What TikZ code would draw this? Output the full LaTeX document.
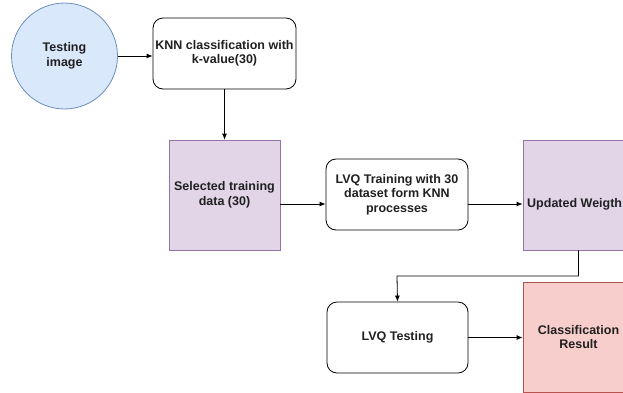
\documentclass[tikz,border=0pt]{standalone}
\usepackage{fontspec}
\setmainfont{Liberation Sans}
\usetikzlibrary{arrows.meta}
\definecolor{blueFill}{HTML}{DAE8FC}
\definecolor{blueLine}{HTML}{6C8EBF}
\definecolor{purpleFill}{HTML}{E1D5E7}
\definecolor{purpleLine}{HTML}{9673A6}
\definecolor{redFill}{HTML}{F8CECC}
\definecolor{redLine}{HTML}{B85450}
\definecolor{textGray}{HTML}{202020}
\tikzset{
  every node/.style={font=\fontsize{12.5}{14.5}\selectfont\bfseries, text=textGray, align=center, inner sep=0pt},
  procbox/.style={draw=black, fill=white, rounded corners=10pt, line width=0.8pt},
  databox/.style={draw=purpleLine, fill=purpleFill, line width=0.8pt},
  resultbox/.style={draw=redLine, fill=redFill, line width=0.8pt},
  startnode/.style={draw=blueLine, fill=blueFill, circle, line width=0.8pt},
  flow/.style={draw=black, line width=0.8pt, -{Latex[length=6pt,width=5pt]}}
}
\begin{document}
\begin{tikzpicture}[x=1pt, y=-1pt]
  \useasboundingbox (0,0) rectangle (623,392);
  \clip (0,0) rectangle (623,392);
  % shapes
  \node[startnode, minimum size=106pt] (img) at (64.5,56) {Testing\\image};
  \node[procbox, minimum width=143pt, minimum height=71pt] (knn) at (224.5,53.5) {KNN classification with\\k-value(30)};
  \node[databox, minimum width=111pt, minimum height=110pt] (sel) at (224.5,195) {Selected training\\data (30)};
  \node[procbox, minimum width=142pt, minimum height=71pt] (lvqt) at (397,194.5) {LVQ Training with 30\\dataset form KNN\\processes};
  \node[databox, minimum width=111pt, minimum height=110pt] (upd) at (578.5,195) {};
  \node[anchor=west] (updtext) at (527,204) {Updated Weigth};
  \node[procbox, minimum width=141pt, minimum height=71pt] (lvqtest) at (397.5,337.5) {LVQ Testing};
  \node[resultbox, minimum width=111pt, minimum height=110pt] (res) at (578.5,337) {Classification\\Result};
  % connectors
  \draw[flow] (img.east) -- (knn.west |- img.east);
  \draw[flow] (knn.south) -- (sel.north);
  \draw[flow] (sel.east |- 0,204) -- (lvqt.west |- 0,204);
  \draw[flow] (lvqt.east |- 0,204) -- (upd.west |- 0,204);
  \coordinate (bend) at (397,276);
  \draw[flow] (upd.south) |- (bend) -- (lvqtest.north);
  \draw[flow] (lvqtest.east) -- (res.west |- lvqtest.east);
\end{tikzpicture}
\end{document}
